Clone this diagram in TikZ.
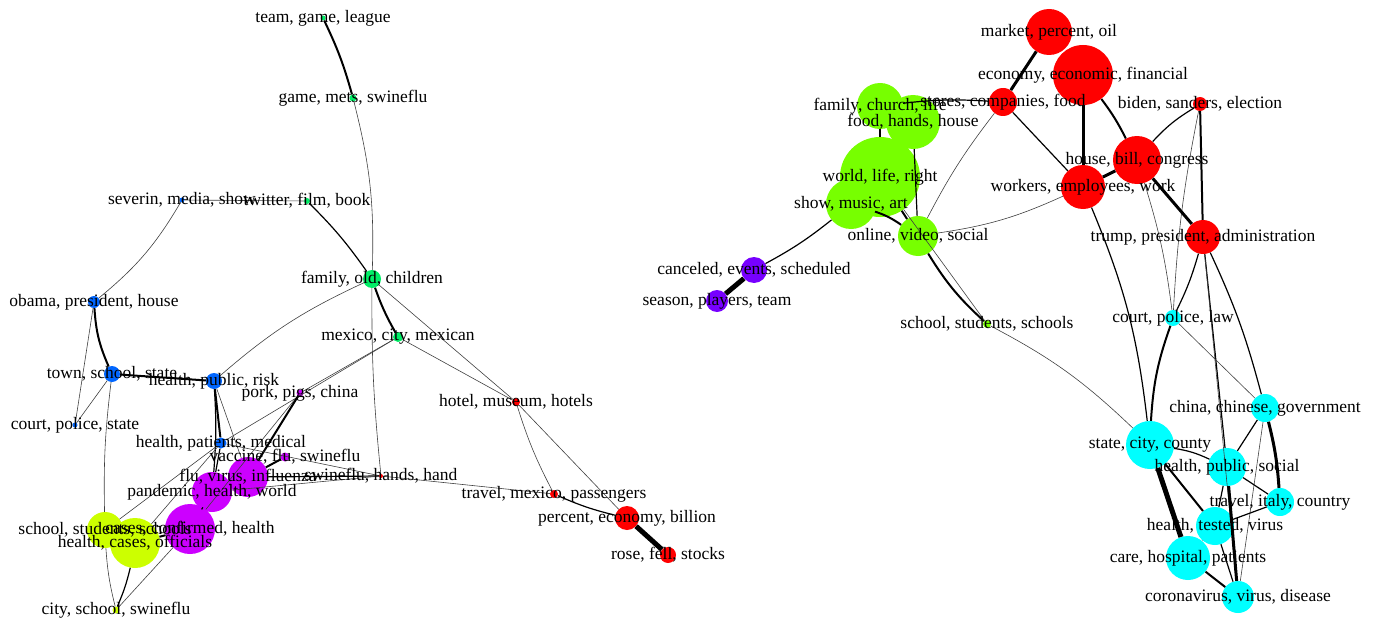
\documentclass[tikz,border=0pt]{standalone}
\usepackage{fontspec}
\setmainfont{Liberation Serif}
\definecolor{cgreen}{RGB}{0,238,102}
\definecolor{cblue}{RGB}{0,102,255}
\definecolor{cpurple}{RGB}{204,0,255}
\definecolor{cyellow}{RGB}{204,255,0}
\definecolor{cred}{RGB}{255,0,0}
\definecolor{clime}{RGB}{119,255,0}
\definecolor{cviolet}{RGB}{119,0,255}
\definecolor{ccyan}{RGB}{0,255,255}
\tikzset{
  vtx/.style={circle,inner sep=0pt,draw=none},
  lbl/.style={font=\fontsize{17.5}{20}\selectfont,inner sep=0pt},
  e0/.style={black!75,line width=0.6pt},
  e1/.style={black,line width=1.2pt},
  e2/.style={black,line width=2pt},
  e3/.style={black,line width=3pt},
  e4/.style={black,line width=5pt},
}

\begin{document}
\begin{tikzpicture}[x=1pt,y=-1pt]
  \useasboundingbox (0,0) rectangle (1375,623);

  % NODES (name/x/y/radius/colour)
  \foreach \n/\x/\y/\r/\c in {
    tgl/323/18/2.5/cgreen, gms/353/98/3.5/cgreen, sms/182/200/2.5/cblue,
    tfb/307/201/3/cgreen, foc/372/279/9/cgreen, oph/94/302/6/cblue,
    mcm/398/337/5/cgreen, tss/112/374/8/cblue, hpr/214/381/8/cblue,
    ppc/300/393/3.5/cpurple, cps/75/425/2.5/cblue, hmh/516/402/4/cred,
    hpm/221/443/5.5/cblue, vfs/285/457/4.5/cpurple, shh/381/476/2/cred,
    fvi/248/477/20/cpurple, phw/212/492/20/cpurple, tmp/554/494/4/cred,
    peb/627/518/12/cred, sss/105/530/18/cyellow, ccl/190/529/25/cpurple,
    hco/135/543/25/cyellow, rfs/668/555/8/cred, css/116/610/3.5/cyellow,
    mpo/1049/32/23/cred, eef/1083/75/30/cred, scf/1003/102/14/cred,
    bse/1200/104/7/cred, fcl/880/106/23/clime, fhh/913/122/27/clime,
    wlr/880/177/40/clime, sma/851/204/25/clime, ovs/918/236/20/clime,
    ces/754/270/13/cviolet, spt/717/301/11/cviolet, sst/987/324/4/clime,
    hbc/1137/160/24/cred, wew/1083/187/22/cred, tpa/1203/237/17/cred,
    cpl/1173/318/8/ccyan, ccg/1265/408/14/ccyan, scc/1150/445/24/ccyan,
    hps/1227/467/19/ccyan, tic/1280/502/14/ccyan, htv/1215/526/19/ccyan,
    chp/1188/558/22/ccyan, cvd/1238/597/16/ccyan}
    \node[vtx,fill=\c,minimum size=2*\r] (\n) at (\x,\y) {};

  % EDGES 2009
  \draw[e2] (tgl) to[bend left=5] (gms);
  \draw[e0] (gms) to[bend left=8] (foc);
  \draw[e0] (sms) -- (tfb);
  \draw[e0] (sms) to[bend left=10] (oph);
  \draw[e1] (tfb) to[bend left=5] (foc);
  \draw[e2] (foc) to[bend right=5] (mcm);
  \draw[e0] (foc) to[bend right=8] (hpr);
  \draw[e0] (foc) to[bend right=3] (shh);
  \draw[e0] (foc) -- (hmh);
  \draw[e0] (mcm) -- (ppc);
  \draw[e0] (mcm) -- (hpm);
  \draw[e0] (mcm) -- (hmh);
  \draw[e2] (oph) to[bend right=10] (tss);
  \draw[e0] (oph) -- (cps);
  \draw[e0] (tss) -- (cps);
  \draw[e2] (tss) -- (hpr);
  \draw[e0] (tss) to[bend right=4] (sss);
  \draw[e2] (hpr) -- (hpm);
  \draw[e1] (hpr) to[bend left=4] (phw);
  \draw[e0] (hpr) -- (fvi);
  \draw[e0] (ppc) -- (ccl);
  \draw[e2] (ppc) -- (fvi);
  \draw[e2] (vfs) -- (fvi);
  \draw[e0] (hpm) -- (shh);
  \draw[e0] (hpm) -- (sss);
  \draw[e0] (hpm) -- (hco);
  \draw[e1] (hpm) -- (phw);
  \draw[e1] (fvi) -- (shh);
  \draw[e0] (phw) -- (shh);
  \draw[e0] (shh) -- (tmp);
  \draw[e0] (hmh) to[bend right=5] (tmp);
  \draw[e0] (hmh) -- (peb);
  \draw[e1] (tmp) to[bend right=5] (peb);
  \draw[e4] (peb) -- (rfs);
  \draw[e1] (fvi) -- (phw);
  \draw[e1] (phw) -- (ccl);
  \draw[e2] (ccl) -- (hco);
  \draw[e1] (css) to[bend right=5] (hco);
  \draw[e0] (css) to[bend left=5] (sss);
  \draw[e0] (css) -- (ccl);

  % EDGES 2020
  \draw[e3] (mpo) -- (scf);
  \draw[e3] (eef) -- (wew);
  \draw[e2] (eef) to[bend left=5] (hbc);
  \draw[e1] (scf) -- (wew);
  \draw[e1] (scf) to[bend right=5] (fcl);
  \draw[e0] (scf) to[bend right=5] (ovs);
  \draw[e1] (bse) to[bend right=8] (hbc);
  \draw[e2] (bse) -- (tpa);
  \draw[e0] (bse) to[bend right=4] (cpl);
  \draw[e3] (hbc) -- (wew);
  \draw[e3] (hbc) -- (tpa);
  \draw[e0] (hbc) to[bend left=5] (cpl);
  \draw[e0] (wew) to[bend left=8] (ovs);
  \draw[e1] (wew) to[bend left=8] (scc);
  \draw[e1] (tpa) to[bend left=5] (cpl);
  \draw[e1] (tpa) -- (hps);
  \draw[e1] (tpa) to[bend left=5] (ccg);
  \draw[e0] (tpa) -- (cvd);
  \draw[e0] (cpl) -- (ccg);
  \draw[e2] (cpl) to[bend right=8] (scc);
  \draw[e2] (fcl) -- (wlr);
  \draw[e1] (fhh) -- (ovs);
  \draw[e2] (wlr) -- (ovs);
  \draw[e2] (sma) to[bend left=8] (ovs);
  \draw[e1] (sma) to[bend left=5] (ces);
  \draw[e4] (ces) -- (spt);
  \draw[e2] (ovs) to[bend right=8] (sst);
  \draw[e0] (wlr) -- (sst);
  \draw[e0] (sst) to[bend left=8] (scc);
  \draw[e3] (ccg) to[bend left=5] (tic);
  \draw[e1] (ccg) -- (hps);
  \draw[e0] (ccg) -- (cvd);
  \draw[e1] (scc) to[bend left=8] (hps);
  \draw[e4] (scc) -- (chp);
  \draw[e2] (scc) -- (htv);
  \draw[e1] (hps) -- (tic);
  \draw[e1] (hps) -- (htv);
  \draw[e3] (hps) -- (cvd);
  \draw[e1] (tic) -- (htv);
  \draw[e1] (htv) -- (cvd);
  \draw[e0] (htv) -- (chp);
  \draw[e2] (chp) -- (cvd);

  % LABELS
  \foreach \n/\t in {
    tgl/{team, game, league}, gms/{game, mets, swineflu},
    sms/{severin, media, show}, tfb/{twitter, film, book},
    foc/{family, old, children}, oph/{obama, president, house},
    mcm/{mexico, city, mexican}, tss/{town, school, state},
    hpr/{health, public, risk}, ppc/{pork, pigs, china},
    cps/{court, police, state}, hmh/{hotel, museum, hotels},
    hpm/{health, patients, medical}, vfs/{vaccine, flu, swineflu},
    shh/{swineflu, hands, hand}, fvi/{flu, virus, influenza},
    phw/{pandemic, health, world}, tmp/{travel, mexico, passengers},
    peb/{percent, economy, billion}, sss/{school, students, schools},
    ccl/{cases, confirmed, health}, hco/{health, cases, officials},
    rfs/{rose, fell, stocks}, css/{city, school, swineflu},
    mpo/{market, percent, oil}, eef/{economy, economic, financial},
    scf/{stores, companies, food}, bse/{biden, sanders, election},
    fcl/{family, church, life}, fhh/{food, hands, house},
    wlr/{world, life, right}, sma/{show, music, art},
    ovs/{online, video, social}, ces/{canceled, events, scheduled},
    spt/{season, players, team}, sst/{school, students, schools},
    hbc/{house, bill, congress}, wew/{workers, employees, work},
    tpa/{trump, president, administration}, cpl/{court, police, law},
    ccg/{china, chinese, government}, scc/{state, city, county},
    hps/{health, public, social}, tic/{travel, italy, country},
    htv/{health, tested, virus}, chp/{care, hospital, patients},
    cvd/{coronavirus, virus, disease}}
    \node[lbl] (l\n) at (\n) {\t};
\end{tikzpicture}
\end{document}
